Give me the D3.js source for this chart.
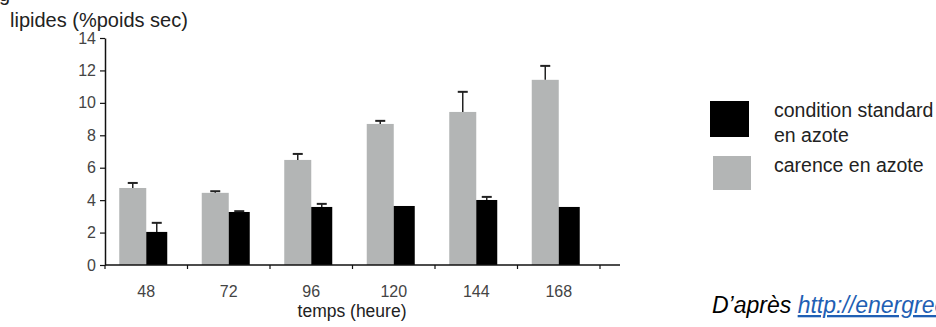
<!DOCTYPE html>
<html>
<head>
<meta charset="utf-8">
<script src="https://cdn.jsdelivr.net/npm/d3@7"></script>
<style>
  body { margin: 0; background: #fff; }
  svg { display: block; font-family: "Liberation Sans", Arial, sans-serif; }
</style>
</head>
<body>
<div id="chart"></div>
<script>
// Data
const times = ["48", "72", "96", "120", "144", "168"];
const carence = [4.75, 4.45, 6.48, 8.7, 9.44, 11.42];          // grey bars
const carenceErr = [5.06, 4.55, 6.85, 8.89, 10.68, 12.28];     // top of error bar
const standard = [2.04, 3.27, 3.58, 3.64, 4.01, 3.58];         // black bars
const standardErr = [2.6, 3.32, 3.77, null, 4.2, null];
const yTicks = [0, 2, 4, 6, 8, 10, 12, 14];

const svg = d3.select("#chart").append("svg").attr("width", 936).attr("height", 327);

const x = d3.scaleBand().domain(times).range([105, 600]);
const y = d3.scaleLinear().domain([0, 14]).range([265, 38]);

const greyW = 27, blackW = 21;

// stray letter from the page above, cut off
svg.append("text").attr("x", -1).attr("y", 1).attr("font-size", 20).attr("fill", "#222").text("g");

// y title
svg.append("text")
    .attr("x", 10).attr("y", 27)
    .attr("font-size", 20).attr("fill", "#222")
    .text("lipides (%poids sec)");

// bars
svg.selectAll(".grey").data(times).enter().append("rect")
    .attr("x", d => x(d) + x.bandwidth() / 2 - greyW)
    .attr("y", (d, i) => y(carence[i]))
    .attr("width", greyW)
    .attr("height", (d, i) => y(0) - y(carence[i]))
    .attr("fill", "#b3b5b5");

svg.selectAll(".black").data(times).enter().append("rect")
    .attr("x", d => x(d) + x.bandwidth() / 2)
    .attr("y", (d, i) => y(standard[i]))
    .attr("width", blackW)
    .attr("height", (d, i) => y(0) - y(standard[i]))
    .attr("fill", "#000");

// error bars
function errBars(vals, errs, cx) {
    times.forEach((t, i) => {
        if (errs[i] == null) return;
        const xc = cx(t);
        svg.append("line")
            .attr("x1", xc).attr("x2", xc)
            .attr("y1", y(vals[i])).attr("y2", y(errs[i]))
            .attr("stroke", "#222").attr("stroke-width", 1.5);
        svg.append("line")
            .attr("x1", xc - 5).attr("x2", xc + 5)
            .attr("y1", y(errs[i])).attr("y2", y(errs[i]))
            .attr("stroke", "#222").attr("stroke-width", 2);
    });
}
errBars(carence, carenceErr, t => x(t) + x.bandwidth() / 2 - greyW / 2);
errBars(standard, standardErr, t => x(t) + x.bandwidth() / 2 + blackW / 2);

// y axis
const yAxis = svg.append("g")
    .attr("transform", "translate(105,0)")
    .call(d3.axisLeft(y).tickValues(yTicks).tickSize(5).tickSizeOuter(0).tickPadding(4));
yAxis.select(".domain").attr("stroke", "#111").attr("stroke-width", 1.5);
yAxis.selectAll(".tick line").attr("stroke", "#111").attr("stroke-width", 1.2);
yAxis.selectAll(".tick text")
    .attr("font-size", 16).attr("fill", "#444")
    .style("font-family", "Liberation Sans, Arial, sans-serif");

// x axis
svg.append("line")
    .attr("x1", 105).attr("x2", 620)
    .attr("y1", y(0)).attr("y2", y(0))
    .attr("stroke", "#111").attr("stroke-width", 1.5);
const bounds = times.map(t => x(t)).concat([x.range()[1]]);
svg.selectAll(".xtick").data(bounds).enter().append("line")
    .attr("x1", d => d).attr("x2", d => d)
    .attr("y1", y(0)).attr("y2", y(0) + 4)
    .attr("stroke", "#111").attr("stroke-width", 1.2);
svg.selectAll(".xlabel").data(times).enter().append("text")
    .attr("x", d => x(d) + x.bandwidth() / 2)
    .attr("y", 297)
    .attr("text-anchor", "middle")
    .attr("font-size", 16).attr("fill", "#444")
    .text(d => d);

svg.append("text")
    .attr("x", 352).attr("y", 317)
    .attr("text-anchor", "middle")
    .attr("font-size", 17.5).attr("fill", "#222")
    .text("temps (heure)");

// legend
svg.append("rect").attr("x", 710).attr("y", 101).attr("width", 39).attr("height", 36).attr("fill", "#000");
svg.append("rect").attr("x", 713).attr("y", 156).attr("width", 38).attr("height", 34).attr("fill", "#b3b5b5");
const legendLines = [["condition standard", 117], ["en azote", 142], ["carence en azote", 172]];
svg.selectAll(".leg").data(legendLines).enter().append("text")
    .attr("x", 774).attr("y", d => d[1])
    .attr("font-size", 19.5).attr("fill", "#222")
    .text(d => d[0]);

// source
const src = svg.append("text")
    .attr("x", 712).attr("y", 313)
    .attr("font-size", 23).attr("font-style", "italic").attr("fill", "#000");
src.append("tspan").text("D\u2019après ");
src.append("tspan").attr("fill", "#1f5fb4").attr("text-decoration", "underline").text("http://energreen.fr");
</script>
</body>
</html>
